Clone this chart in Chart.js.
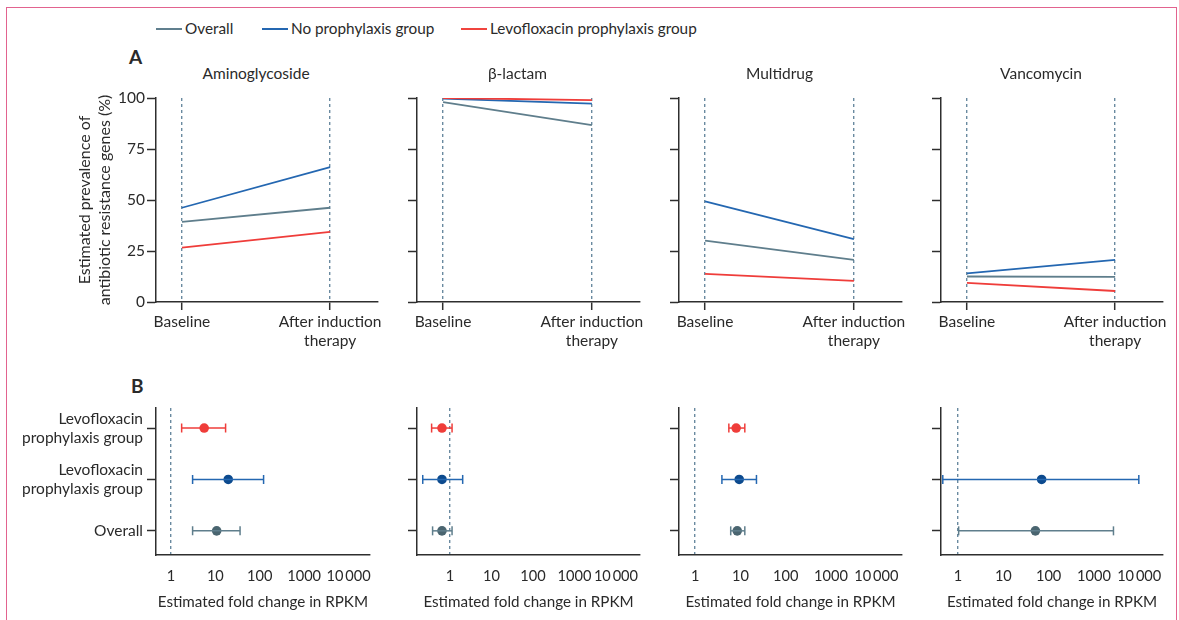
<!DOCTYPE html>
<html><head><meta charset="utf-8">
<script src="https://cdn.jsdelivr.net/npm/chart.js@4.4.0/dist/chart.umd.min.js"></script>
<style>
html,body{margin:0;padding:0;background:#fff;overflow:hidden;}
#wrap{position:relative;width:1179px;height:620px;font-family:Lato,'Open Sans',sans-serif;color:#2a2a2a;}
#frame{position:absolute;left:6px;top:7px;width:1171px;height:640px;border:1.5px solid #e2638f;box-sizing:border-box;}
canvas{position:absolute;}
.lg{position:absolute;top:19px;font-size:15.3px;line-height:18px;white-space:nowrap;}
.lg i{display:inline-block;width:26px;height:2px;vertical-align:middle;margin-right:3px;position:relative;top:-1px;}
.letter{position:absolute;font-weight:bold;font-size:19px;line-height:22px;}
.ttl{position:absolute;top:64px;font-size:15.5px;line-height:18px;transform:translateX(-50%);white-space:nowrap;}
</style></head>
<body><div id="wrap">
<div id="frame"></div>
<div class="lg" style="left:156px"><i style="background:#607f8e"></i>Overall</div>
<div class="lg" style="left:262px"><i style="background:#2467b1"></i>No prophylaxis group</div>
<div class="lg" style="left:461px"><i style="background:#f0443e"></i>Levofloxacin prophylaxis group</div>
<div class="letter" style="left:129px;top:46px">A</div>
<div class="letter" style="left:131px;top:375px">B</div>
</div>
<script>
// ---- data ----
const drugClasses = ['Aminoglycoside', 'β-lactam', 'Multidrug', 'Vancomycin'];
const timeLabels = ['Baseline', ['After induction', 'therapy']];
const prevTicks = [0, 25, 50, 75, 100];

const overallBaseline = [39.3, 98.0, 30.1, 12.5];
const overallAfter    = [46.2, 86.7, 20.7, 12.3];
const noProphBaseline = [46.2, 99.7, 49.3, 14.0];
const noProphAfter    = [66.1, 97.2, 30.8, 20.6];
const levoBaseline    = [26.7, 100.0, 13.8, 9.4];
const levoAfter       = [34.4, 99.0, 10.4, 5.4];

const foldLevo        = [5.6, 0.64, 8.05, null];
const foldLevoLow     = [1.74, 0.36, 5.55, null];
const foldLevoHigh    = [17, 1.12, 12.5, null];
const foldNoProph     = [19.5, 0.64, 9.4, 70];
const foldNoProphLow  = [3.07, 0.22, 3.9, 0.46];
const foldNoProphHigh = [122, 2.02, 22.6, 9800];
const foldOverall     = [10.7, 0.64, 8.5, 51];
const foldOverallLow  = [3.07, 0.38, 6.1, 1.03];
const foldOverallHigh = [36, 1.12, 12.5, 2700];

const foldTicks = [1, 10, 100, 1000, 10000];
const foldTickLabels = ['1', '10', '100', '1000', '10\u2009000'];
const rowLabels = ['Overall', ['Levofloxacin', 'prophylaxis group'], ['Levofloxacin', 'prophylaxis group']]; // y = 0,1,2

// ---- layout / style ----
const axisLeft = [156, 417, 679, 941];
const axisRightA = [378, 640, 902, 1163];
const axisRightB = [370, 640, 902, 1163];
const foldMin = [0.46, 0.16, 0.44, 0.42];
const foldMax = [30000, 38000, 37000, 33500];

const C = {
  gray: '#5f7e8c', grayDot: '#4a6570',
  blue: '#2467b1', blueDot: '#0c4a8e',
  red: '#ef3d3a', redDot: '#ef3d3a',
  dash: '#6a8aa0', axis: '#2e2e2e', text: '#2a2a2a'
};
const FS = 15.5;

Chart.defaults.font.family = 'Lato, "Open Sans", sans-serif';
Chart.defaults.font.size = FS;
Chart.defaults.color = C.text;

const wrap = document.getElementById('wrap');
function addCanvas(L, T, W, H) {
  const c = document.createElement('canvas');
  c.width = W; c.height = H;
  c.style.left = L + 'px'; c.style.top = T + 'px';
  c.style.width = W + 'px'; c.style.height = H + 'px';
  wrap.appendChild(c);
  return c;
}
function lineDs(label, b, a, color) {
  return { label, data: [{x: 0, y: b}, {x: 1, y: a}], showLine: true,
    borderColor: color, backgroundColor: color, borderWidth: 1.8, pointRadius: 0 };
}

// ---- Panel A ----
for (let i = 0; i < 4; i++) {
  const L = i === 0 ? 60 : axisLeft[i] - 40;
  const yW = axisLeft[i] - L;
  const padR = 14, T = 82, padT = 16;
  const W = axisRightA[i] + padR - L;
  const H = (302 - T) + 50;
  const cv = addCanvas(L, T, W, H);
  const ch = new Chart(cv, {
    type: 'scatter',
    data: { datasets: [
      lineDs('Levofloxacin prophylaxis group', levoBaseline[i], levoAfter[i], C.red),
      lineDs('Overall', overallBaseline[i], overallAfter[i], C.gray),
      lineDs('No prophylaxis group', noProphBaseline[i], noProphAfter[i], C.blue)
    ]},
    options: {
      responsive: false, animation: false, events: [],
      layout: { padding: { top: padT, right: padR, left: 0, bottom: 0 } },
      plugins: { legend: { display: false }, tooltip: { enabled: false } },
      scales: {
        x: {
          type: 'linear', min: -0.175, max: 1.323,
          afterBuildTicks: s => { s.ticks = [{value: 0}, {value: 1}]; },
          afterFit: s => { s.height = 50; },
          ticks: { callback: v => timeLabels[v], maxRotation: 0, autoSkip: false, padding: 3,
                   font: { size: FS, lineHeight: 1.22 }, color: C.text },
          grid: { color: C.dash, lineWidth: 1.4, drawTicks: true, tickLength: 8,
                  tickColor: C.axis, tickWidth: 1.5, tickBorderDash: [] },
          border: { color: C.axis, width: 1.5, dash: [3, 3] }
        },
        y: {
          min: 0, max: 100,
          afterBuildTicks: s => { s.ticks = prevTicks.map(v => ({value: v})); },
          afterFit: s => { s.width = yW; },
          ticks: { display: i === 0, padding: 2, font: { size: FS }, color: C.text },
          grid: { drawOnChartArea: false, drawTicks: true, tickLength: 9, tickColor: C.axis, tickWidth: 1.5 },
          border: { color: C.axis, width: 1.5 },
          title: { display: i === 0, text: ['Estimated prevalence of', 'antibiotic resistance genes (%)'],
                   padding: { top: 15, bottom: 0 }, font: { size: 16, lineHeight: 20 / 16 }, color: C.text }
        }
      }
    }
  });
  const t = document.createElement('div');
  t.className = 'ttl';
  t.textContent = drugClasses[i];
  t.style.left = (L + ch.scales.x.getPixelForValue(0.5)) + 'px';
  wrap.appendChild(t);
}

// ---- Panel B ----
function errDs(low, high, row, color) {
  return { data: [{x: low, y: row}, {x: high, y: row}], showLine: true,
    borderColor: color, borderWidth: 1.5, pointStyle: 'line', pointRotation: 90,
    pointRadius: 4.5, pointBorderWidth: 1.5, pointBorderColor: color, pointBackgroundColor: color };
}
function dotDs(v, row, color) {
  return { data: [{x: v, y: row}], pointRadius: 4.8, pointBackgroundColor: color,
    pointBorderColor: color, pointBorderWidth: 0 };
}
for (let i = 0; i < 4; i++) {
  const L = i === 0 ? 8 : axisLeft[i] - 40;
  const yW = axisLeft[i] - L;
  const padR = 14, T = 378, padT = 30;
  const W = axisRightB[i] + padR - L;
  const H = (555 - T) + 60;
  const cv = addCanvas(L, T, W, H);
  const ds = [];
  const groups = [
    [foldOverall, foldOverallLow, foldOverallHigh, 0, C.gray, C.grayDot],
    [foldNoProph, foldNoProphLow, foldNoProphHigh, 1, C.blue, C.blueDot],
    [foldLevo, foldLevoLow, foldLevoHigh, 2, C.red, C.redDot]
  ];
  groups.forEach(([v, lo, hi, row, col, dcol]) => {
    if (v[i] == null) return;
    ds.push(errDs(lo[i], hi[i], row, col));
    ds.push(dotDs(v[i], row, dcol));
  });
  new Chart(cv, {
    type: 'scatter',
    data: { datasets: ds },
    options: {
      responsive: false, animation: false, events: [],
      layout: { padding: { top: padT, right: padR, left: 0, bottom: 0 } },
      plugins: { legend: { display: false }, tooltip: { enabled: false } },
      scales: {
        x: {
          type: 'logarithmic', min: foldMin[i], max: foldMax[i],
          afterBuildTicks: s => { s.ticks = foldTicks.map(v => ({value: v})); },
          afterFit: s => { s.height = 60; },
          ticks: { callback: v => foldTickLabels[foldTicks.indexOf(v)], maxRotation: 0, autoSkip: false,
                   padding: 12, font: { size: 14.6, lineHeight: 1.25 }, color: C.text },
          grid: { color: c => (c.tick && c.tick.value === 1) ? C.dash : 'rgba(0,0,0,0)',
                  lineWidth: 1.4, drawTicks: false },
          border: { color: C.axis, width: 1.5, dash: [3, 3] },
          title: { display: true, text: 'Estimated fold change in RPKM', padding: { top: 0, bottom: 4 },
                   font: { size: 15.2, lineHeight: 1.22 }, color: C.text }
        },
        y: {
          min: -0.47, max: 2.39,
          afterBuildTicks: s => { s.ticks = [{value: 0}, {value: 1}, {value: 2}]; },
          afterFit: s => { s.width = yW; },
          ticks: { display: i === 0, callback: v => rowLabels[v], padding: 4,
                   font: { size: FS, lineHeight: 1.22 }, color: C.text },
          grid: { drawOnChartArea: false, drawTicks: true, tickLength: 9, tickColor: C.axis, tickWidth: 1.5 },
          border: { color: C.axis, width: 1.5 }
        }
      }
    }
  });
}
</script>
</body></html>
